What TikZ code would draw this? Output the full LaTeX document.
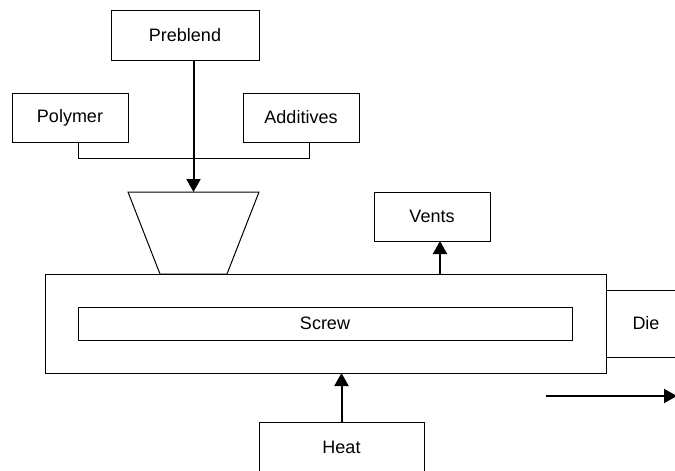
\documentclass[tikz,border=0pt]{standalone}
\usepackage{fontspec}
\setmainfont{Liberation Sans}
\usetikzlibrary{arrows.meta, positioning}

\begin{document}
\begin{tikzpicture}[x=1pt, y=-1pt,
        box/.style={rectangle, draw, line width=1pt, inner sep=0pt, outer sep=0pt, font=\fontsize{18}{21}\selectfont},
        feed/.style={line width=2pt, -{Triangle[length=13pt, width=14pt]}}]
        \useasboundingbox (0,0) rectangle (675,471);

        % Raw materials
        \node[box, minimum width=148pt, minimum height=50pt] (preblend) at (185,35) {Preblend};
        \node[box, minimum width=116pt, minimum height=49pt] (polymer) at (70,117.5) {Polymer};
        \node[box, minimum width=116pt, minimum height=49pt] (additives) at (301,117.5) {Additives};

        % Hopper
        \coordinate (hopper) at (193.5,192);
        \draw[line width=1pt] (128,192) -- (259,192) -- (227,274) -- (160,274) -- cycle;

        % Extruder
        \node[box, minimum width=561pt, minimum height=99pt] (barrel) at (325.5,323.5) {};
        \node[box, minimum width=494pt, minimum height=33pt] (screw) at (325,323.5) {Screw};
        \node[box, right=0pt of barrel, minimum width=80pt, minimum height=67pt] (die) {Die};

        % Vents and heat
        \node[box, minimum width=116pt, minimum height=49pt] (vents) at (432,216.5) {Vents};
        \node[box, minimum width=165pt, minimum height=50pt] (heat) at (341.5,447) {Heat};

        % Output direction
        \coordinate (outstart) at (546,396);
        \coordinate (outend) at (677,396);

        % Connections
        \draw[line width=1pt] ([xshift=8pt]polymer.south) -- ++(0,16) -| ([xshift=8pt]additives.south);
        \draw[feed] (preblend.south -| hopper) -- (hopper);
        \draw[feed] (barrel.north -| 440,0) -- (vents.south -| 440,0);
        \draw[feed] (heat.north) -- (barrel.south -| heat.north);
        \draw[feed] (outstart) -- (outend);
    \end{tikzpicture}
\end{document}
